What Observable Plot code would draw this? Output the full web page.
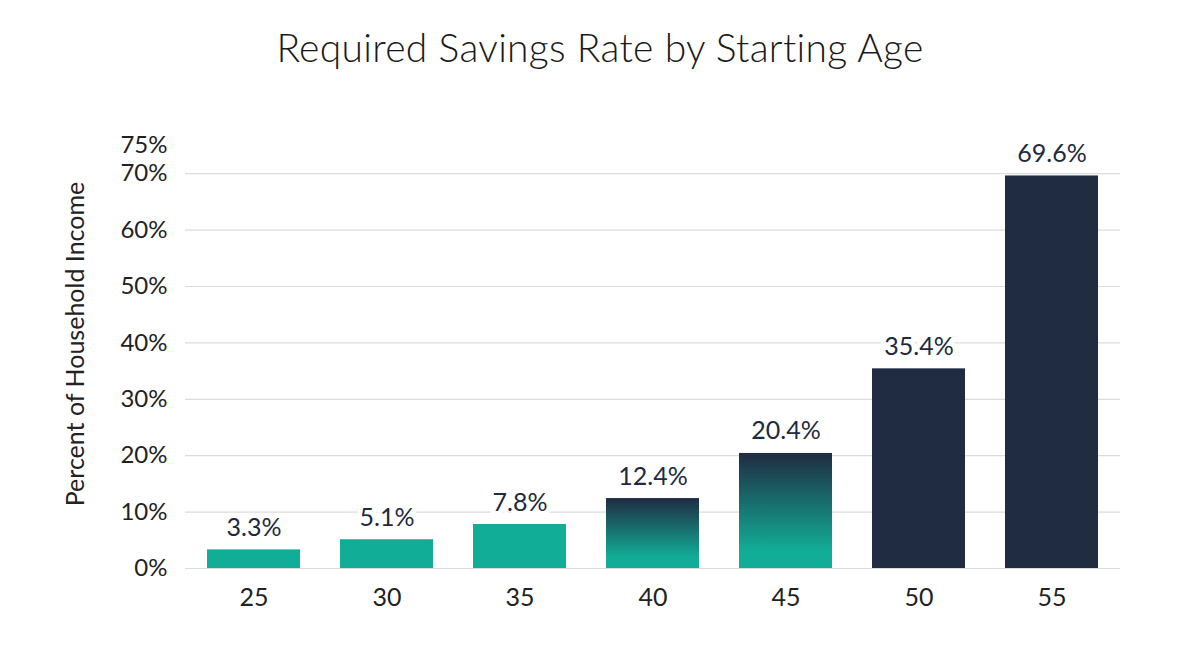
<!DOCTYPE html>
<html>
<head>
<meta charset="utf-8">
<script src="https://cdn.jsdelivr.net/npm/d3@7"></script>
<script src="https://cdn.jsdelivr.net/npm/@observablehq/plot@0.6"></script>
<style>
  html, body { margin: 0; padding: 0; background: #fff; }
  body { width: 1200px; height: 654px; overflow: hidden; font-family: Lato, "Noto Sans", sans-serif; }
  #title { height: 100px; line-height: 94px; text-align: center; font-size: 39px; color: #1a1a1a; font-weight: 300; letter-spacing: 0.3px; }
  #chart svg { display: block; }
</style>
</head>
<body>
<div id="title">Required Savings Rate by Starting Age</div>
<div id="chart"></div>
<script>
const ages = [25, 30, 35, 40, 45, 50, 55];
const rates = [3.3, 5.1, 7.8, 12.4, 20.4, 35.4, 69.6];
const yTicks = [0, 10, 20, 30, 40, 50, 60, 70, 75];
const gridTicks = [0, 10, 20, 30, 40, 50, 60, 70];
const yLabel = "Percent of Household Income";

const teal = "#12ad96";
const navy = "#1f2c42";
const data = ages.map((a, i) => ({age: a, rate: rates[i]}));
const fillFor = d => d.age <= 35 ? teal : (d.age <= 45 ? "url(#barGrad)" : navy);

const plot = Plot.plot({
  width: 1200,
  height: 554,
  marginTop: 45,
  marginBottom: 86,
  marginLeft: 185,
  marginRight: 80,
  style: {fontFamily: "Lato, 'Noto Sans', sans-serif", fontSize: "24px", color: "#222"},
  x: {type: "band", domain: ages, paddingInner: 0.3, paddingOuter: 0.16, label: null},
  y: {domain: [0, 75], ticks: yTicks, tickFormat: d => d + "%", label: null},
  marks: [
    Plot.ruleY(gridTicks, {stroke: "#dcdcdc", strokeWidth: 1.2}),
    Plot.barY(data, {x: "age", y: "rate", fill: fillFor}),
    Plot.text(data, {x: "age", y: "rate", text: d => d.rate.toFixed(1) + "%", dy: -22, lineAnchor: "middle",
      fill: "#1e2a3e", stroke: "white", strokeWidth: 10, fontSize: 25, fontWeight: 400, letterSpacing: "0.5px"}),
    Plot.axisY({ticks: yTicks, tickFormat: d => d + "%", tickSize: 0, tickPadding: 18, fontSize: 24, label: null}),
    Plot.text([yLabel], {frameAnchor: "left", text: d => d, rotate: -90, dx: -110, dy: -13,
      fontSize: 25, fill: "#222", lineAnchor: "middle", textAnchor: "middle"}),
    Plot.axisX({tickSize: 0, tickPadding: 20, fontSize: 25, label: null})
  ]
});

const ns = "http://www.w3.org/2000/svg";
const defs = document.createElementNS(ns, "defs");
const grad = document.createElementNS(ns, "linearGradient");
grad.setAttribute("id", "barGrad");
grad.setAttribute("x1", "0"); grad.setAttribute("y1", "0");
grad.setAttribute("x2", "0"); grad.setAttribute("y2", "1");
[["0", navy], ["0.85", teal], ["1", teal]].forEach(([o, c]) => {
  const s = document.createElementNS(ns, "stop");
  s.setAttribute("offset", o);
  s.setAttribute("stop-color", c);
  grad.appendChild(s);
});
defs.appendChild(grad);
plot.insertBefore(defs, plot.firstChild);
document.getElementById("chart").appendChild(plot);
</script>
</body>
</html>
